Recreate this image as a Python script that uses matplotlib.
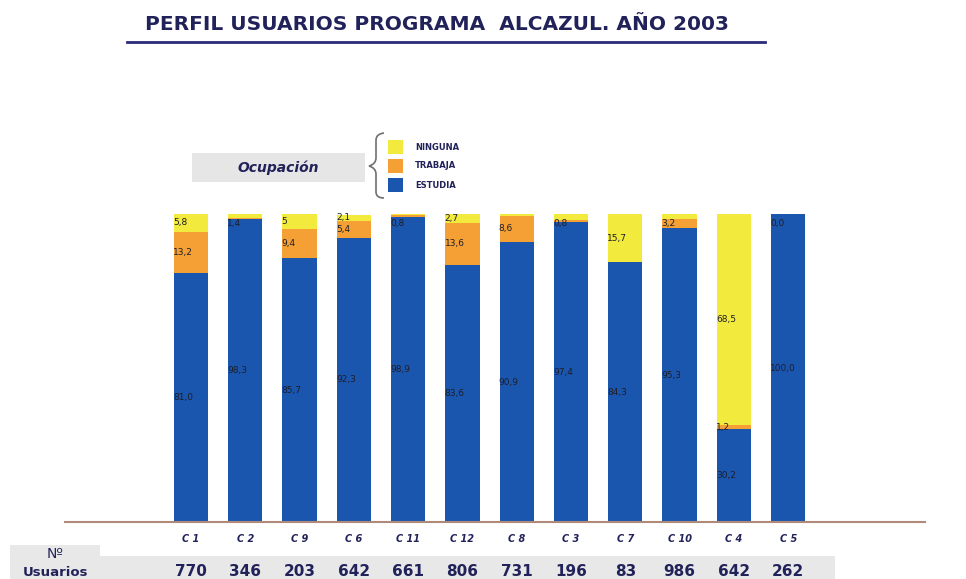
import numpy as np
import matplotlib.pyplot as plt
from matplotlib.path import Path
from matplotlib.patches import PathPatch, Rectangle
from matplotlib.transforms import blended_transform_factory

# Data (percentages per centre)
centros = ["C 1", "C 2", "C 9", "C 6", "C 11", "C 12", "C 8", "C 3", "C 7", "C 10", "C 4", "C 5"]
estudia = [81.0, 98.3, 85.7, 92.3, 98.9, 83.6, 90.9, 97.4, 84.3, 95.3, 30.2, 100.0]
trabaja = [13.2, 0.3, 9.4, 5.4, 0.8, 13.6, 8.6, 0.8, 0.0, 3.2, 1.2, 0.0]
ninguna = [5.8, 1.4, 5.0, 2.1, 0.3, 2.7, 0.5, 1.8, 15.7, 1.5, 68.5, 0.0]
# value labels as printed on the chart ("" = no label)
lab_estudia = ["81,0", "98,3", "85,7", "92,3", "98,9", "83,6", "90,9", "97,4", "84,3", "95,3", "30,2", "100,0"]
lab_trabaja = ["13,2", "", "9,4", "5,4", "0,8", "13,6", "8,6", "0,8", "", "3,2", "1,2", "0,0"]
lab_ninguna = ["5,8", "1,4", "5", "2,1", "", "2,7", "", "", "15,7", "", "68,5", ""]
usuarios = [770, 346, 203, 642, 661, 806, 731, 196, 83, 986, 642, 262]

c_estudia = "#1a56ae"
c_trabaja = "#f5a034"
c_ninguna = "#f2ea3c"
navy = "#22225a"

W, H = 966, 579
fig = plt.figure(figsize=(W / 100, H / 100), dpi=100)

# bar axes: 0..100 maps to pixel rows 522..214
ax = fig.add_axes([65 / W, 1 - 522 / H, (925 - 65) / W, (522 - 214) / H])
x = np.arange(len(centros))
est = np.array(estudia)
tra = np.array(trabaja)
nin = np.array(ninguna)
ax.bar(x, est, width=0.63, color=c_estudia)
ax.bar(x, tra, width=0.63, bottom=est, color=c_trabaja)
ax.bar(x, nin, width=0.63, bottom=est + tra, color=c_ninguna)
ax.set_xlim(-2.32, 13.52)
ax.set_ylim(0, 100)


def put_labels(vals, bottoms, labels):
    for i, (v, b, t) in enumerate(zip(vals, bottoms, labels)):
        if not t:
            continue
        y = b + v / 2
        # tiny segments at the top get their label pushed just inside the bar
        if v < 2 and b + v > 95:
            y = 96.8
        ax.text(i - 0.33, y, t, fontsize=6.5, color="#1e1e2a", va="center", ha="left")


put_labels(est, np.zeros(len(est)), lab_estudia)
put_labels(tra, est, lab_trabaja)
put_labels(nin, est + tra, lab_ninguna)

for s in ["top", "right", "left"]:
    ax.spines[s].set_visible(False)
ax.spines["bottom"].set_color("#b08a78")
ax.spines["bottom"].set_linewidth(1.5)
ax.set_yticks([])
ax.set_xticks(x)
ax.set_xticklabels(centros, fontsize=7, fontstyle="italic", fontweight="bold", color=navy)
ax.tick_params(axis="x", length=0, pad=9)

# overlay in pixel coordinates for decorations
ov = fig.add_axes([0, 0, 1, 1], zorder=-1)
ov.set_xlim(0, W)
ov.set_ylim(H, 0)
ov.axis("off")

# title
fig.text(437 / W, 1 - 25 / H, "PERFIL USUARIOS PROGRAMA  ALCAZUL. AÑO 2003", ha="center", va="center",
         fontsize=14.5, fontweight="bold", color=navy)
ov.plot([127, 765], [42, 42], color="#2a2a7a", lw=2)

# legend
ov.add_patch(Rectangle((192, 153), 173, 29, color="#e6e6e6", lw=0))
ov.text(278, 168, "Ocupación", ha="center", va="center", fontsize=10, fontweight="bold",
        fontstyle="italic", color=navy)
brace = Path([(384, 133), (376, 134), (376, 140), (376, 158), (376, 164), (369, 166),
              (376, 168), (376, 174), (376, 192), (376, 198), (384, 198)],
             [Path.MOVETO, Path.CURVE3, Path.CURVE3, Path.LINETO, Path.CURVE3, Path.CURVE3,
              Path.CURVE3, Path.CURVE3, Path.LINETO, Path.CURVE3, Path.CURVE3])
ov.add_patch(PathPatch(brace, fill=False, edgecolor="#707070", lw=1.2))
for yy, col, name in [(140, c_ninguna, "NINGUNA"), (159, c_trabaja, "TRABAJA"), (178, c_estudia, "ESTUDIA")]:
    ov.add_patch(Rectangle((388, yy), 15, 14, color=col, lw=0))
    ov.text(415, yy + 7, name, va="center", ha="left", fontsize=6, fontweight="bold", color=navy)

# users table
ov.add_patch(Rectangle((10, 545), 90, 34, color="#e8e8e8", lw=0))
ov.add_patch(Rectangle((100, 556), 735, 23, color="#e8e8e8", lw=0))
ov.text(55, 554, "Nº", ha="center", va="center", fontsize=10, color=navy)
ov.text(55, 572, "Usuarios", ha="center", va="center", fontsize=9.5, fontweight="bold", color=navy)
tr = blended_transform_factory(ax.transData, fig.transFigure)
for i, n in enumerate(usuarios):
    ax.text(i, 1 - 571 / H, str(n), transform=tr, ha="center", va="center",
            fontsize=11, fontweight="bold", color=navy, clip_on=False)

fig.savefig("out.png", dpi=100, facecolor="white")
